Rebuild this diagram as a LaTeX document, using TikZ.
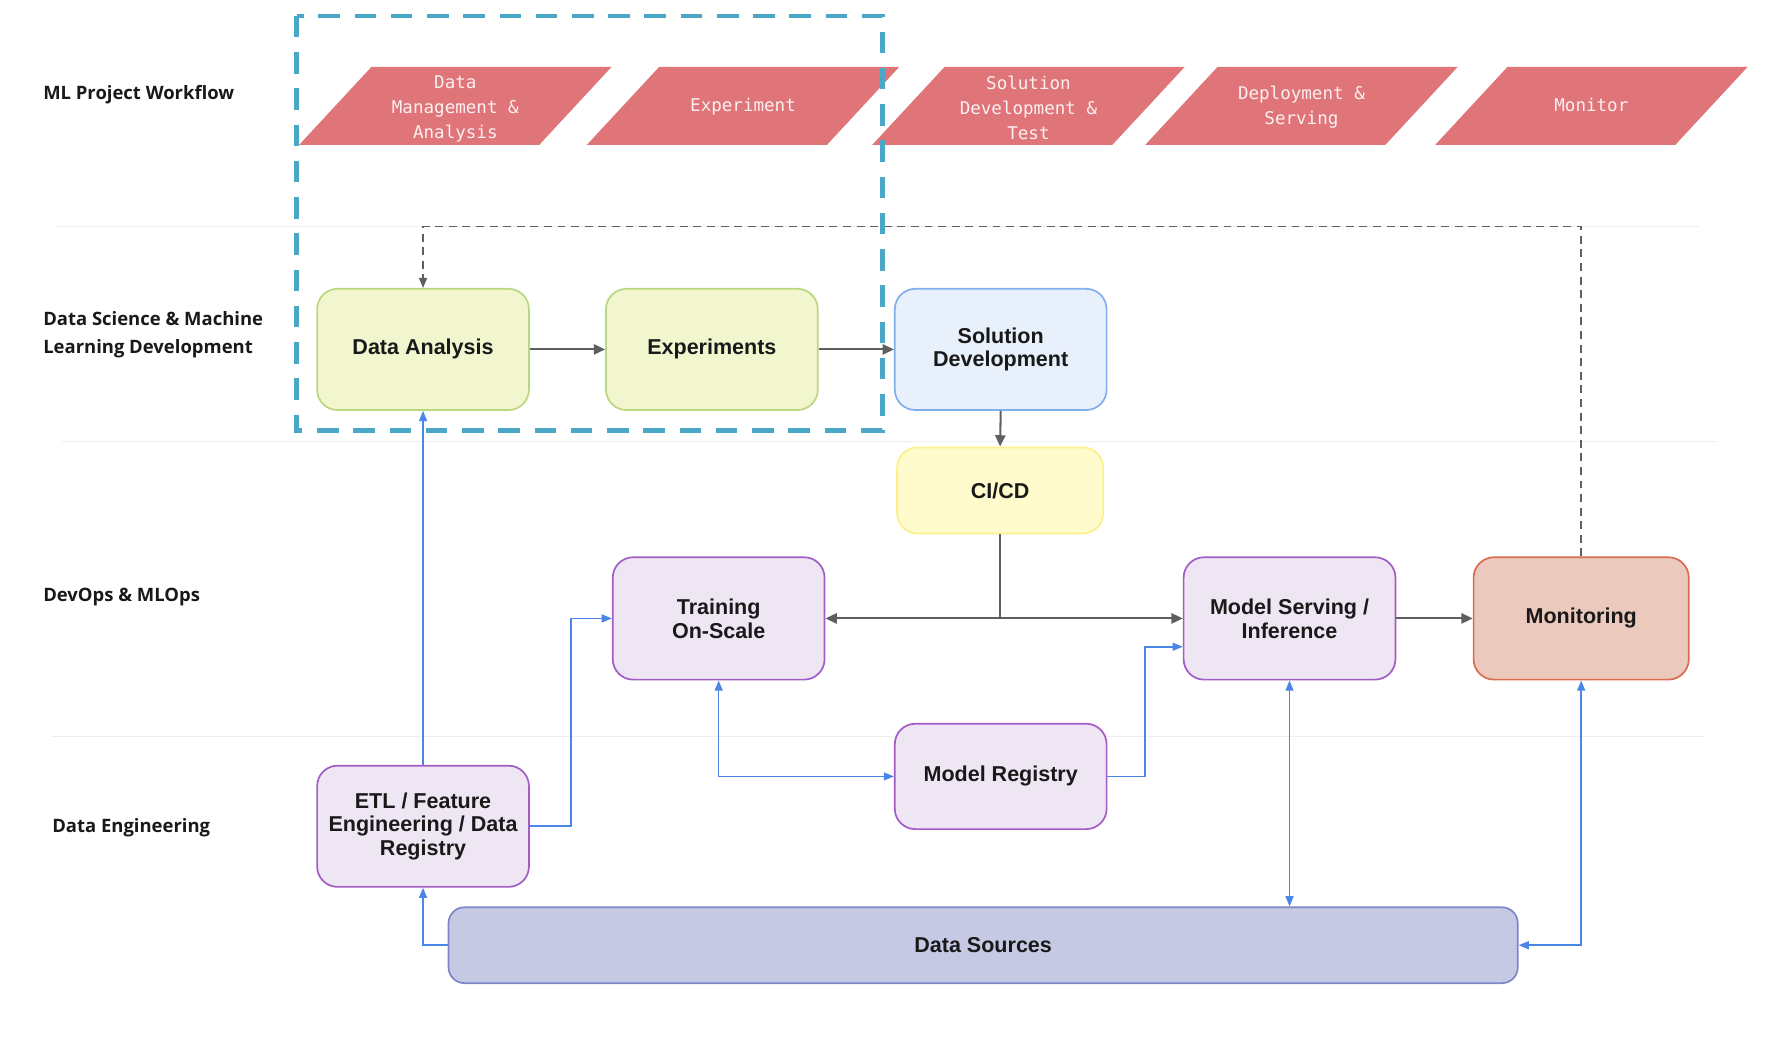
\documentclass[tikz,border=0pt]{standalone}
\usepackage{fontspec}
\setmainfont{Liberation Sans}
\newfontfamily\lanefont{Open Sans}
\newfontfamily\pmono{DejaVu Sans Mono}
\usetikzlibrary{arrows.meta,calc}
\definecolor{parared}{HTML}{DF7479}
\definecolor{paratxt}{HTML}{FBF0F0}
\definecolor{teal}{HTML}{4BA7C6}
\definecolor{dgray}{HTML}{5F5F5F}
\definecolor{lanegray}{HTML}{EEEEEE}
\definecolor{lnblue}{HTML}{4A86E8}
\definecolor{grnfill}{HTML}{F1F6CF}
\definecolor{grnline}{HTML}{B9D77F}
\definecolor{bluefill}{HTML}{E8F0FB}
\definecolor{blueline}{HTML}{82AEEE}
\definecolor{yelfill}{HTML}{FFFBCD}
\definecolor{yelline}{HTML}{FDF08A}
\definecolor{purfill}{HTML}{EFE6F4}
\definecolor{purline}{HTML}{A35CC6}
\definecolor{monfill}{HTML}{EBC9BC}
\definecolor{monline}{HTML}{D96C4F}
\definecolor{dsfill}{HTML}{C6C9E4}
\definecolor{dsline}{HTML}{7D87C8}
\tikzset{
  lanelabel/.style={anchor=west,align=left,inner sep=0pt,font=\lanefont\bfseries\fontsize{16.3}{24}\selectfont,text=black!90},
  paratext/.style={align=center,inner sep=0pt,text=paratxt,font=\pmono\fontsize{15.5}{22}\selectfont},
  boxbase/.style={rounded corners=18pt,line width=1.5pt,align=center,inner sep=2pt,
     minimum width=187pt,minimum height=107pt,font=\bfseries\fontsize{19}{21}\selectfont,text=black!90},
  grnbox/.style={boxbase,fill=grnfill,draw=grnline},
  bluebox/.style={boxbase,fill=bluefill,draw=blueline},
  yelbox/.style={boxbase,fill=yelfill,draw=yelline,minimum width=182pt,minimum height=76pt},
  purbox/.style={boxbase,fill=purfill,draw=purline,minimum height=108pt},
  monbox/.style={boxbase,fill=monfill,draw=monline,minimum width=190pt,minimum height=108pt},
  dsbox/.style={boxbase,fill=dsfill,draw=dsline,rounded corners=14pt,minimum width=944pt,minimum height=67pt},
  garrow/.style={draw=dgray,line width=1.8pt,-{Triangle[length=10pt,width=9pt]}},
  gline/.style={draw=dgray,line width=1.8pt},
  gdash/.style={draw=dgray,line width=1.5pt,dash pattern=on 7pt off 5pt},
  barrow/.style={draw=lnblue,line width=1.4pt,-{Triangle[length=9pt,width=7pt]}},
  bdouble/.style={draw=lnblue,line width=1.4pt,{Triangle[length=9pt,width=7pt]}-{Triangle[length=9pt,width=7pt]}},
  lane/.style={draw=lanegray,line width=1.2pt}
}
\newcommand{\parabox}[4]{%
  \fill[parared] (#1,128) -- ({#1+212},128) -- ({#1+276},59) -- ({#1+64},59) -- cycle;
  \node[paratext] (#2) at ({#1+138},#4) {#3};}
\begin{document}
\begin{tikzpicture}[x=1pt,y=-1pt]
\useasboundingbox (0,0) rectangle (1568,916);
% lanes
\draw[lane] (50,200) -- (1500,200);
\draw[lane] (55,390) -- (1515,390);
\draw[lane] (45,650) -- (1505,650);
% lane labels
\node[lanelabel] (l1) at (38,84) {ML Project Workflow};
\node[lanelabel] (l2) at (38,295.5) {Data Science \& Machine\\Learning Development};
\node[lanelabel] (l3) at (38,527.5) {DevOps \& MLOps};
\node[lanelabel] (l4) at (46,731) {Data Engineering};
% workflow parallelograms
\parabox{264}{p1}{Data\\Management \&\\Analysis}{96}
\parabox{518}{p2}{Experiment}{94}
\parabox{770}{p3}{Solution\\Development \&\\Test}{95}
\parabox{1011}{p4}{Deployment \&\\Serving}{94.5}
\parabox{1267}{p5}{Monitor}{93}
% boxes
\node[grnbox] (da) at (373.5,308.5) {Data Analysis};
\node[grnbox] (ex) at (628.5,308.5) {Experiments};
\node[bluebox] (sd) at (883.5,308.5) {Solution\\Development};
\node[yelbox] (ci) at (883,433) {CI/CD};
\node[purbox] (tr) at (634.5,546) {Training\\On-Scale};
\node[purbox] (ms) at (1138.5,546) {Model Serving /\\Inference};
\node[monbox] (mon) at (1396,546) {Monitoring};
\node[purbox,minimum height=93pt] (mr) at (883.5,685.5) {Model Registry};
\node[purbox,minimum height=107pt] (etl) at (373.5,729.5) {ETL / Feature\\Engineering / Data\\Registry};
\node[dsbox] (ds) at (868,834.5) {Data Sources};
% gray connectors
\draw[garrow] (da.east) -- (ex.west);
\draw[garrow] (ex.east) -- (sd.west);
\draw[garrow] (sd.south) -- (ci.north);
\draw[gline] (ci.south) -- (883,546) coordinate (j);
\draw[garrow] (j) -- (tr.east);
\draw[garrow] (j) -- (ms.west);
\draw[garrow] (ms.east) -- (mon.west);
% feedback dashed
\draw[gdash,-{Triangle[length=9pt,width=7pt]}] (mon.north) -- (1396,200) -- (373.5,200) -- (da.north);
% blue connectors
\draw[barrow] (etl.north) -- (da.south);
\draw[barrow] (etl.east) -- (504,729.5) |- (tr.west);
\draw[bdouble] (tr.south) |- (mr.west);
\draw[barrow] (mr.east) -- (1011,685.5) |- ($(ms.west)+(0,25)$);
\draw[bdouble] (ms.south) -- (ms.south |- ds.north);
\draw[bdouble] (ds.east) -| (mon.south);
\draw[barrow] (ds.west) -| (etl.south);
% teal dashed highlight
\draw[teal,line width=4pt,dash pattern=on 19pt off 13pt] (262,14) rectangle (779,380);
\end{tikzpicture}
\end{document}
